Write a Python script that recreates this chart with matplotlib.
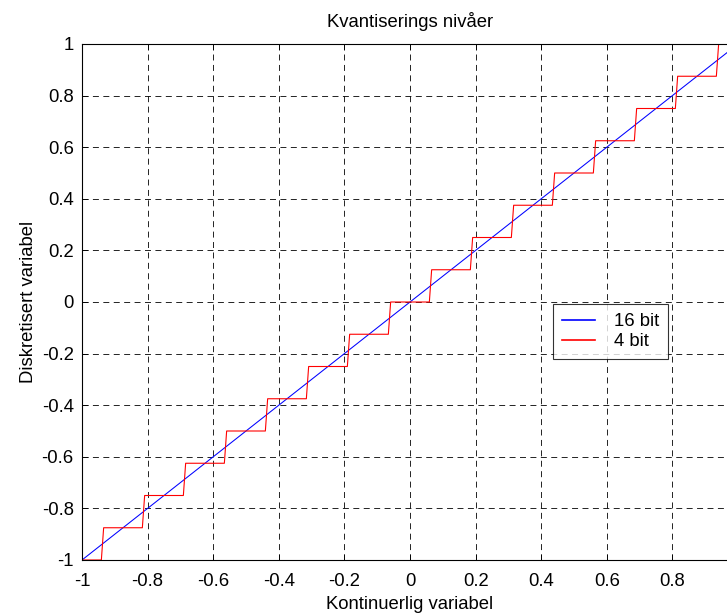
import matplotlib
matplotlib.use("Agg")
import matplotlib.pyplot as plt

# =========================
# DATA
# =========================
# 16 bit: practically a straight line y = x
x16 = [-1.0, 1.0]
y16 = [-1.0, 1.0]

# 4 bit: quantisation levels and the x positions where the level changes
levels4 = [-1.0, -0.875, -0.75, -0.625, -0.5, -0.375, -0.25, -0.125, 0.0,
           0.125, 0.25, 0.375, 0.5, 0.625, 0.75, 0.875, 1.0]
edges4 = [-0.9375, -0.8125, -0.6875, -0.5625, -0.4375, -0.3125, -0.1875, -0.0625,
          0.0625, 0.1875, 0.3125, 0.4375, 0.5625, 0.6875, 0.8125, 0.9375]

xticks = [-1, -0.8, -0.6, -0.4, -0.2, 0, 0.2, 0.4, 0.6, 0.8, 1]
yticks = [-1, -0.8, -0.6, -0.4, -0.2, 0, 0.2, 0.4, 0.6, 0.8, 1]

# build staircase path (jumps are slightly slanted, sampled data)
half = 0.0035
x4 = [-1.0]
y4 = [levels4[0]]
for i, e in enumerate(edges4):
    x4 += [e - half, e + half]
    y4 += [levels4[i], levels4[i + 1]]
x4.append(1.0)
y4.append(levels4[-1])

# =========================
# PLOT
# =========================
plt.rcParams["font.family"] = ["Liberation Sans", "DejaVu Sans"]
plt.rcParams["lines.scale_dashes"] = False
fs = 13.3

fig = plt.figure(figsize=(7.27, 6.14), dpi=100)
ax = fig.add_axes([82 / 727, 54 / 614, 656 / 727, 516 / 614])

ax.plot(x16, y16, color="#0000ff", linewidth=0.75, label="16 bit")
ax.plot(x4, y4, color="#ff0000", linewidth=0.8, label="4 bit")

ax.set_xlim(-1, 1)
ax.set_ylim(-1, 1)
ax.set_xticks(xticks)
ax.set_yticks(yticks)
# the label at x = 1 falls outside the picture in the original
ax.set_xticklabels([f"{t:g}" if t != 1 else "" for t in xticks])
ax.set_yticklabels([f"{t:g}" for t in yticks])
ax.tick_params(direction="in", length=4, width=0.6, labelsize=fs,
               top=True, right=True)
ax.tick_params(axis="x", pad=9)
ax.tick_params(axis="y", pad=6)
ax.grid(True, color="black", linestyle=(0, (4.3, 3.2)), linewidth=0.6)
for s in ax.spines.values():
    s.set_linewidth(0.8)

ax.set_title("Kvantiserings nivåer", fontsize=fs, pad=12)
ax.set_xlabel("Kontinuerlig variabel", fontsize=fs, labelpad=5)
ax.set_ylabel("Diskretisert variabel", fontsize=fs, labelpad=3)

leg = ax.legend(loc="upper left", bbox_to_anchor=((553 - 82) / 656, (560 - 304) / 516),
                fontsize=fs, frameon=True, fancybox=False, edgecolor="black",
                handlelength=1.8, borderpad=0.5, labelspacing=0.15, handletextpad=1.0,
                borderaxespad=0)
leg.get_frame().set_linewidth(0.8)
for h in leg.get_lines():
    h.set_linewidth(1.2)

fig.savefig("out.png", dpi=100)
